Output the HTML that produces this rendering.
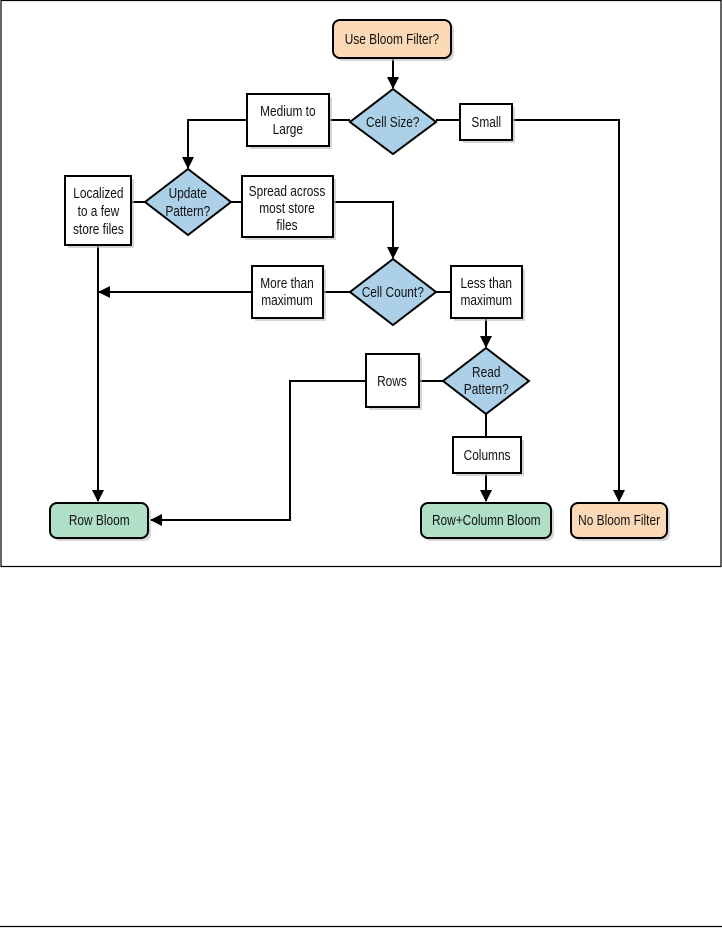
<!DOCTYPE html>
<html><head><meta charset="utf-8"><style>
html,body{margin:0;padding:0;background:#fff;}
svg{display:block;}
text{font-family:"Liberation Sans",sans-serif;font-size:14.5px;fill:#111;text-anchor:middle;}
</style></head><body>
<svg width="722" height="928" viewBox="0 0 722 928" xmlns="http://www.w3.org/2000/svg">
<defs>
<marker id="a" markerWidth="12" markerHeight="12" refX="11" refY="6" orient="auto" markerUnits="userSpaceOnUse">
<path d="M0,0 L12,6 L0,12 z" fill="#000"/></marker>
</defs>
<rect x="1" y="0.5" width="720" height="566" fill="none" stroke="#000" stroke-width="1.2"/>
<line x1="0" y1="926.5" x2="722" y2="926.5" stroke="#000" stroke-width="1.2"/>
<g stroke="#000" stroke-width="2" fill="none">
<line x1="393" y1="58" x2="393" y2="88" marker-end="url(#a)"/>
<polyline points="247,120 188,120 188,168" marker-end="url(#a)"/>
<line x1="329" y1="120" x2="350" y2="120"/>
<line x1="436" y1="120" x2="460" y2="120"/>
<polyline points="512,120 619,120 619,501" marker-end="url(#a)"/>
<line x1="131" y1="202" x2="145" y2="202"/>
<line x1="231" y1="202" x2="242" y2="202"/>
<polyline points="333,202 393,202 393,258" marker-end="url(#a)"/>
<line x1="98" y1="245" x2="98" y2="501" marker-end="url(#a)"/>
<line x1="252" y1="292" x2="99" y2="292" marker-end="url(#a)"/>
<line x1="323" y1="292" x2="350" y2="292"/>
<line x1="436" y1="292" x2="451" y2="292"/>
<line x1="486" y1="318" x2="486" y2="347" marker-end="url(#a)"/>
<line x1="419" y1="381" x2="443" y2="381"/>
<polyline points="366,381 290,381 290,520 151,520" marker-end="url(#a)"/>
<line x1="486" y1="414" x2="486" y2="437"/>
<line x1="486" y1="473" x2="486" y2="501" marker-end="url(#a)"/>
</g>
<g fill="#bbb" opacity="0.6">
<rect x="336" y="23" width="118" height="38" rx="7"/>
<rect x="53" y="506" width="98" height="35" rx="7"/>
<rect x="424" y="506" width="130" height="35" rx="7"/>
<rect x="574" y="506" width="96" height="35" rx="7"/>
<rect x="250" y="97" width="82" height="52"/><rect x="463" y="107" width="52" height="36"/>
<rect x="68" y="179" width="66" height="69"/><rect x="245" y="179" width="91" height="61"/>
<rect x="255" y="269" width="71" height="52"/><rect x="454" y="269" width="71" height="52"/>
<rect x="369" y="357" width="53" height="53"/><rect x="456" y="440" width="68" height="36"/>
</g>
<g stroke="#000" stroke-width="2">
<rect x="333" y="20" width="118" height="38" rx="7" fill="#fcd9b6"/>
<rect x="50" y="503" width="98" height="35" rx="7" fill="#b0dfc8"/>
<rect x="421" y="503" width="130" height="35" rx="7" fill="#b0dfc8"/>
<rect x="571" y="503" width="96" height="35" rx="7" fill="#fcd9b6"/>
<g fill="#fff">
<rect x="247" y="94" width="82" height="52"/><rect x="460" y="104" width="52" height="36"/>
<rect x="65" y="176" width="66" height="69"/><rect x="242" y="176" width="91" height="61"/>
<rect x="252" y="266" width="71" height="52"/><rect x="451" y="266" width="71" height="52"/>
<rect x="366" y="354" width="53" height="53"/><rect x="453" y="437" width="68" height="36"/>
</g>
<g fill="#acd0e8">
<polygon points="393,89 436,122 393,154 350,122"/>
<polygon points="188,169 231,202 188,235 145,202"/>
<polygon points="393,259 436,292 393,325 350,292"/>
<polygon points="486,348 529,381 486,414 443,381"/>
</g>
</g>
<g transform="scale(0.82,1)">
<text x="478" y="44">Use Bloom Filter?</text>
<text x="351" y="116">Medium to</text><text x="351" y="134">Large</text>
<text x="593" y="127">Small</text>
<text x="479" y="127">Cell Size?</text>
<text x="120" y="198">Localized</text><text x="120" y="216">to a few</text><text x="120" y="234">store files</text>
<text x="229" y="198">Update</text><text x="229" y="216">Pattern?</text>
<text x="350" y="196">Spread across</text><text x="350" y="213">most store</text><text x="350" y="230">files</text>
<text x="350" y="288">More than</text><text x="350" y="305">maximum</text>
<text x="479" y="297">Cell Count?</text>
<text x="593" y="288">Less than</text><text x="593" y="305">maximum</text>
<text x="478" y="386">Rows</text>
<text x="593" y="377">Read</text><text x="593" y="394">Pattern?</text>
<text x="594" y="460">Columns</text>
<text x="121" y="525">Row Bloom</text>
<text x="593" y="525">Row+Column Bloom</text>
<text x="755" y="525">No Bloom Filter</text>
</g>
</svg>
</body></html>
